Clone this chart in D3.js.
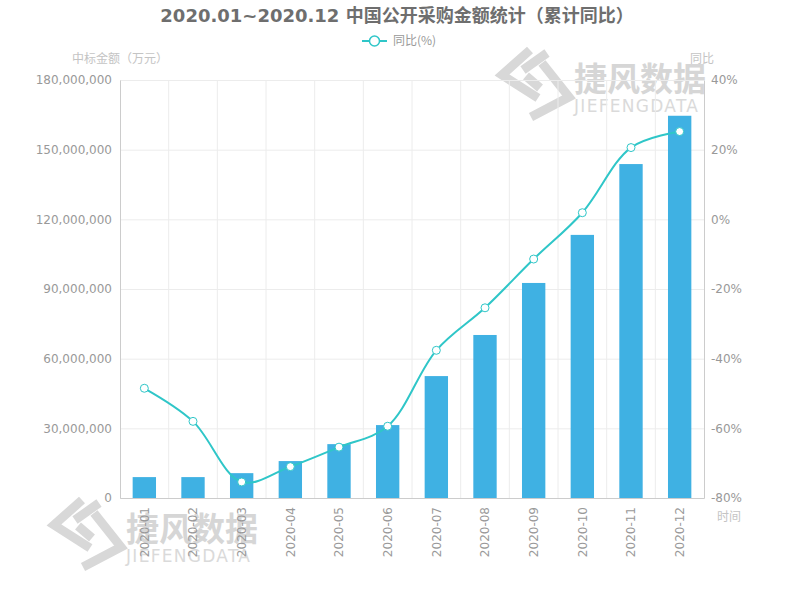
<!DOCTYPE html>
<html><head><meta charset="utf-8">
<script src="https://cdn.jsdelivr.net/npm/d3@7"></script>
<style>
html,body{margin:0;padding:0;background:#fff;}
svg{display:block;font-family:"DejaVu Sans","Noto Sans CJK SC",sans-serif;}
</style></head>
<body>
<svg id="chart" width="800" height="600"></svg>
<script>
const categories = ["2020-01","2020-02","2020-03","2020-04","2020-05","2020-06","2020-07","2020-08","2020-09","2020-10","2020-11","2020-12"];
const amountValues = [9000000, 9000000, 10700000, 15900000, 23200000, 31400000, 52500000, 70200000, 92600000, 113300000, 143800000, 164600000];
const yoyValues = [-48.5, -58.0, -75.4, -71.0, -65.4, -59.4, -37.6, -25.4, -11.4, 1.9, 20.6, 25.2];
const leftTicks = [0, 30000000, 60000000, 90000000, 120000000, 150000000, 180000000];
const rightTicks = [-80, -60, -40, -20, 0, 20, 40];
const titleText = "2020.01~2020.12 中国公开采购金额统计（累计同比）";
const legendText = "同比(%)";
const leftAxisName = "中标金额（万元）";
const rightAxisName = "同比";
const xAxisName = "时间";
const wmCn = "捷风数据", wmEn = "JIEFENGDATA";

const svg = d3.select("#chart");
const m = {left:120, right:704, top:80, bottom:498};
const barColor = "#3fb1e3", lineColor = "#2fc6c8";

// watermarks
function watermark(x, y) {
  const g = svg.append("g").attr("transform", `translate(${x},${y})`);
  const polys = [
    [[37,5],[9,30],[45,53]],
    [[54,8],[30,25]],
    [[33,31],[47,43]],
    [[49,18],[76,52],[38,72]]
  ];
  polys.forEach(p => {
    g.append("path").attr("d", d3.line()(p)).attr("fill", "none")
      .attr("stroke", "#d8d8d8").attr("stroke-width", 9).attr("stroke-linejoin", "miter");
  });
  g.append("text").attr("x", 81).attr("y", 46).attr("font-size", 33).attr("font-weight", "bold")
    .attr("font-family", "Noto Sans CJK SC").attr("fill", "#d6d6d6").text(wmCn);
  g.append("text").attr("x", 81).attr("y", 67).attr("font-size", 17).attr("font-family", "DejaVu Sans")
    .attr("fill", "#dadada").attr("letter-spacing", 1.3).text(wmEn);
}
watermark(493, 45);
watermark(45, 495);

const x = d3.scaleBand().domain(categories).range([m.left, m.right]).paddingInner(0).paddingOuter(0);
const yL = d3.scaleLinear().domain([0, 180000000]).range([m.bottom, m.top]);
const yR = d3.scaleLinear().domain([-80, 40]).range([m.bottom, m.top]);

// horizontal grid
svg.append("g").attr("transform", `translate(${m.left},0)`)
  .call(d3.axisLeft(yL).tickValues(leftTicks).tickSize(-(m.right - m.left)).tickFormat(""))
  .call(g => g.select(".domain").remove())
  .call(g => g.selectAll("line").attr("stroke", "#ececec"));
// vertical grid
svg.append("g").selectAll("line").data(categories.slice(1)).join("line")
  .attr("x1", d => x(d)).attr("x2", d => x(d)).attr("y1", m.top).attr("y2", m.bottom)
  .attr("stroke", "#ececec");

// bars
const bw = x.bandwidth() * 0.48;
svg.append("g").selectAll("rect").data(amountValues).join("rect")
  .attr("x", (d,i) => x(categories[i]) + x.bandwidth()/2 - bw/2)
  .attr("y", d => yL(d)).attr("width", bw).attr("height", d => yL(0) - yL(d))
  .attr("fill", barColor);

// axes
const axL = svg.append("g").attr("transform", `translate(${m.left},0)`)
  .call(d3.axisLeft(yL).tickValues(leftTicks).tickFormat(d3.format(",")).tickSize(0).tickPadding(8));
const axR = svg.append("g").attr("transform", `translate(${m.right},0)`)
  .call(d3.axisRight(yR).tickValues(rightTicks).tickFormat(d => d + "%").tickSize(0).tickPadding(7));
const axB = svg.append("g").attr("transform", `translate(0,${m.bottom})`)
  .call(d3.axisBottom(x).tickSize(0).tickPadding(0));
[axL, axR, axB].forEach(a => {
  a.select(".domain").attr("stroke", "#cccccc");
  a.selectAll("text").attr("fill", "#999").attr("font-size", 12).attr("font-family", "DejaVu Sans");
});
axB.selectAll("text").attr("transform", "rotate(-90)").attr("text-anchor", "end")
  .attr("x", -9).attr("y", 0).attr("dy", "0.35em");

// line
const line = d3.line().x((d,i) => x(categories[i]) + x.bandwidth()/2).y(d => yR(d)).curve(d3.curveCatmullRom.alpha(0.5));
svg.append("path").datum(yoyValues).attr("d", line).attr("fill", "none").attr("stroke", lineColor).attr("stroke-width", 2);
svg.append("g").selectAll("circle").data(yoyValues).join("circle")
  .attr("cx", (d,i) => x(categories[i]) + x.bandwidth()/2).attr("cy", d => yR(d)).attr("r", 4)
  .attr("fill", "#fff").attr("stroke", lineColor).attr("stroke-width", 1);

// title
svg.append("text").attr("x", 397).attr("y", 22).attr("text-anchor", "middle").attr("font-size", 18)
  .attr("font-weight", "bold").attr("fill", "#6e6e6e").text(titleText);

// legend
const lg = svg.append("g");
lg.append("line").attr("x1", 362).attr("x2", 387).attr("y1", 41).attr("y2", 41).attr("stroke", lineColor).attr("stroke-width", 2);
lg.append("circle").attr("cx", 374.5).attr("cy", 41).attr("r", 5).attr("fill", "#fff").attr("stroke", lineColor).attr("stroke-width", 1.5);
lg.append("text").attr("x", 393).attr("y", 45).attr("font-size", 12).attr("fill", "#999")
  .attr("font-family", "Noto Sans CJK SC, DejaVu Sans").text(legendText);

// axis names
svg.append("text").attr("x", 72).attr("y", 63).attr("font-size", 12).attr("fill", "#c4c4c4")
  .attr("font-family", "Noto Sans CJK SC").text(leftAxisName);
svg.append("text").attr("x", 690).attr("y", 63).attr("font-size", 12).attr("fill", "#c4c4c4")
  .attr("font-family", "Noto Sans CJK SC").text(rightAxisName);
svg.append("text").attr("x", 717).attr("y", 521).attr("font-size", 12).attr("fill", "#c4c4c4")
  .attr("font-family", "Noto Sans CJK SC").text(xAxisName);
</script>
</body></html>
